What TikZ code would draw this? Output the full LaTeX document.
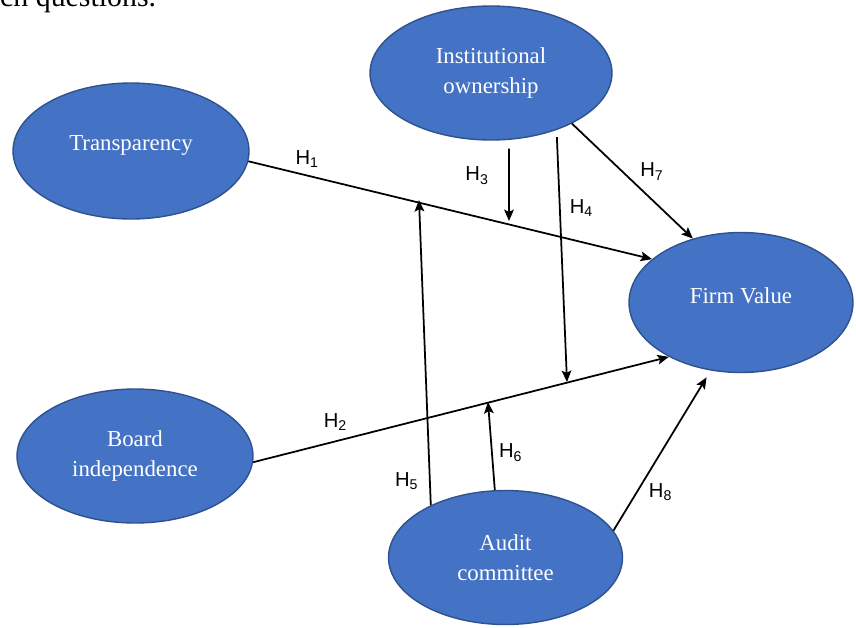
\documentclass[tikz,border=0pt]{standalone}
\usepackage{fontspec}
\setmainfont{Liberation Serif}
\newfontfamily\hfont{Liberation Sans}
\usetikzlibrary{arrows.meta,shapes.geometric}
\definecolor{ovalblue}{HTML}{4472C4}
\definecolor{ovalline}{HTML}{2F528F}

\begin{document}
\begin{tikzpicture}[x=0.02cm,y=-0.02cm,->,>={Stealth[length=6.5pt,width=5.5pt,inset=1.3pt]},
		line width=1pt,
		construct/.style={ellipse,draw=ovalline,line width=0.8pt,fill=ovalblue,text=white,
			inner sep=0pt,align=center,font=\fontsize{13}{17}\selectfont},
		hyp/.style={font=\hfont\fontsize{11.5}{13}\selectfont,inner sep=2pt}]
		
		\useasboundingbox (0,0) rectangle (856,627);
		\node[anchor=base east,inner sep=0pt,font=\fontsize{17}{20}\selectfont] (Q) at (157,6) {rch questions.};
		
		\node[construct,minimum width=4.72cm,minimum height=2.72cm,text depth=9.6pt] (T) at (131,151) {Transparency};
		\node[construct,minimum width=4.84cm,minimum height=2.68cm] (I) at (491,73) {Institutional\\ownership};
		\node[construct,minimum width=4.48cm,minimum height=2.8cm,text depth=8pt] (F) at (741,302.5) {Firm Value};
		\node[construct,minimum width=4.72cm,minimum height=2.68cm] (B) at (135,456) {Board\\independence};
		\node[construct,minimum width=4.68cm,minimum height=2.68cm] (A) at (505.5,557.5) {Audit\\committee};
		
		% ends of the moderating arrows, on H1 and H2
		\coordinate (M1) at (419,200);
		\coordinate (M3) at (509,221);
		\coordinate (M4) at (567,382);
		\coordinate (M6) at (488,402);
		
		\path (T.-5) edge node[hyp,pos=.146,above=2pt] {H\textsubscript{1}} (F.154)
		(B.-3) edge node[hyp,pos=.198,above=3.5pt] {H\textsubscript{2}} (F.217)
		(I.-75) edge[shorten <=5pt] node[hyp,pos=.44,left=9pt] {H\textsubscript{3}} (M3)
		(I.-41) edge[shorten <=4pt] node[hyp,pos=.31,right=3.2pt] {H\textsubscript{4}} (M4)
		(A.145) edge node[hyp,pos=.078,left=4pt] {H\textsubscript{5}} (M1)
		(A.99)  edge node[hyp,pos=.425,right=1.6pt] {H\textsubscript{6}} (M6)
		(I.-32) edge node[hyp,pos=.53,above right] {H\textsubscript{7}} (F.127)
		(A.14)  edge[shorten >=4.5pt] node[hyp,pos=.32,below right] {H\textsubscript{8}} (F.246);
	\end{tikzpicture}
\end{document}
